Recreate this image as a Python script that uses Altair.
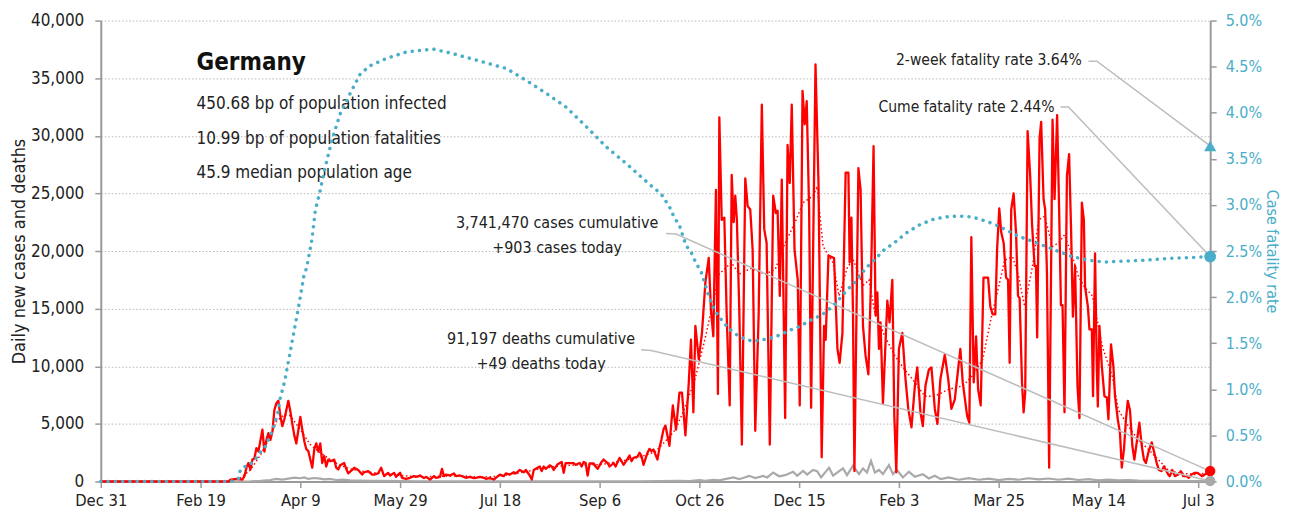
import altair as alt
import pandas as pd

FONT = "DejaVu Sans Condensed, Liberation Sans, sans-serif"
RED = "#ff0000"
GRAY = "#a9a9a9"
TEAL = "#4aaec8"
INK = "#222222"
AXIS = "#9a9a9a"

END_DAY = 556  # days since 2019-12-31 (last reported day)

# x axis ticks (days since Dec 31, 2019) and their labels
x_tick_days = [0, 50, 100, 150, 200, 250, 300, 350, 400, 450, 500, 550]
x_tick_labels = ["Dec 31", "Feb 19", "Apr 9", "May 29", "Jul 18", "Sep 6",
                 "Oct 26", "Dec 15", "Feb 3", "Mar 25", "May 14", "Jul 3"]
y_tick_vals = [0, 5000, 10000, 15000, 20000, 25000, 30000, 35000, 40000]
r_tick_vals = [0, 0.005, 0.01, 0.015, 0.02, 0.025, 0.03, 0.035, 0.04, 0.045, 0.05]

# daily new cases (day, value)
case_day = [0, 64, 65, 68, 71, 72, 73, 74, 75, 76, 77, 78, 79, 81, 82, 83, 84, 85, 86, 87,
            88, 89, 90, 91, 92, 93, 94, 95, 96, 97, 98, 100, 101, 102, 103, 104, 106, 107, 108, 109,
            110, 111, 112, 113, 114, 115, 117, 118, 119, 120, 122, 123, 124, 126, 127, 129, 131, 132, 134, 136,
            137, 139, 140.5, 142, 144, 145, 147, 148, 149, 150, 151, 153, 155, 157, 158, 160, 162, 163, 165, 167,
            168, 170, 171, 172, 173, 175, 177, 178, 180, 182, 183, 185, 187, 188, 190, 192, 193, 195, 197, 198,
            200, 202, 203, 205, 207, 208, 210, 212, 213, 215, 216, 217, 218, 220, 221, 222, 223, 225, 226, 227,
            229, 231, 232, 233, 235, 237, 238, 240, 241, 242, 243, 244, 245, 247, 248, 249, 250, 251, 252, 254,
            255, 257, 258, 260, 261, 262, 264, 265, 266, 267, 269, 270, 271, 272, 274, 275, 276, 277, 279, 280,
            281, 282, 283, 285, 286.7, 288.3, 290, 291.3, 293, 294.7, 295.8, 297, 298, 299.7, 301.3, 303, 304.7, 305.8, 307, 308.3,
            309.3, 310, 311.2, 312.5, 313.7, 315.2, 316.2, 317.2, 318, 318.8, 320, 321.3, 323, 324.2, 325.5, 326.7, 328, 329.7, 331.3, 332.5,
            333.7, 335.3, 337, 338.3, 339.2, 340.3, 341.3, 343, 344.2, 345.3, 346.3, 347.7, 349.3, 350.3, 351.7, 352.8, 353.8, 355, 356, 358.2,
            359.7, 361.3, 362.5, 363.3, 364.7, 367.5, 369.2, 370.3, 371.7, 373.3, 374.7, 375.3, 376.2, 377, 377.7, 379.7, 380.8, 382, 383.3, 384.7,
            386, 387.3, 388.3, 389.2, 390, 390.8, 392, 394.2, 395.3, 396.7, 397.7, 398.7, 400, 401.7, 403.3, 404.7, 406.3, 408, 409.2, 410.8,
            412, 413.3, 415, 416.3, 418, 419.3, 420.8, 423, 424.7, 426.3, 428, 430.8, 432, 434.2, 435.3, 436.3, 437.5, 438.7, 439.7, 441,
            442.4, 444.7, 445.8, 447, 448.3, 449.2, 450.3, 451.3, 452.5, 453.7, 454.7, 455.5, 456.3, 457.5, 458.7, 459.7, 460.5, 461.7, 462.5, 463.3,
            464.5, 465.8, 466.7, 468, 468.7, 469.3, 470.5, 471.3, 472.5, 473.3, 474.2, 475.3, 477, 478, 479.3, 480.3, 481.2, 482, 483, 484.2,
            485.3, 486.3, 487.2, 488.3, 489.5, 490.5, 491.7, 492.7, 493.3, 494.7, 495.5, 496.7, 497.3, 498.3, 499.2, 499.7, 500.5, 501.7, 503, 504.2,
            505, 506.3, 507.5, 508.3, 509.7, 510.8, 511.7, 512.8, 513.8, 514.7, 515.8, 517, 518, 519.2, 520.5, 521.7, 522.8, 523.8, 525, 526.7,
            528, 529.2, 530.3, 531.7, 532.8, 533.8, 535, 535.8, 537, 538.3, 540, 541.3, 542.5, 544.2, 545.3, 546.7, 548.3, 549.7, 550.8, 552,
            553.3, 555, 556]
case_val = [0, 0, 170, 230, 170, 460, 1200, 1600, 1040, 1900, 2000, 2900, 2600, 4500, 2600, 3600, 4200, 3600, 4300, 6200,
            6800, 7000, 5700, 4800, 5400, 6200, 7000, 6100, 5000, 4000, 3300, 5600, 4500, 3500, 2800, 2650, 1200, 2800, 3300, 2600,
            3300, 1600, 2200, 1300, 1900, 1760, 1900, 1200, 1040, 1400, 1600, 1100, 700, 1000, 1200, 1000, 600, 800, 900, 600,
            600, 700, 1200, 460, 750, 520, 750, 400, 600, 750, 320, 230, 320, 460, 400, 520, 290, 400, 170, 460,
            320, 400, 1100, 460, 600, 520, 700, 460, 520, 400, 320, 400, 290, 320, 400, 320, 230, 290, 170, 320,
            600, 460, 700, 600, 800, 700, 1000, 800, 1000, 520, 170, 1000, 1100, 1300, 900, 1300, 1100, 1400, 1300, 1000,
            1500, 1700, 750, 1600, 1600, 1600, 1450, 1600, 1300, 1700, 1600, 520, 1560, 1560, 1300, 1100, 1400, 1700, 1900, 1600,
            1300, 1600, 1300, 2050, 1760, 1450, 1960, 2250, 1760, 2050, 2150, 2500, 2200, 1450, 2500, 2830, 2630, 2770, 1900, 2920,
            3640, 4500, 4850, 3100, 6600, 4500, 7700, 7700, 4000, 8600, 12300, 6000, 13500, 10600, 12900, 17250, 19400, 14900, 12600, 25300,
            7600, 31600, 22700, 22900, 14400, 6600, 26600, 22500, 24800, 22700, 14900, 3200, 26300, 23900, 23600, 20100, 4400, 14400, 32700, 21900,
            20700, 3200, 24800, 23300, 23500, 16100, 26200, 5500, 29200, 25900, 32700, 20100, 17500, 6600, 33900, 31000, 33000, 23600, 6400, 36200,
            25900, 2100, 13500, 12300, 19600, 19400, 11500, 10300, 12900, 26800, 26800, 19000, 22900, 14400, 900, 27200, 25300, 13500, 10900, 9300,
            17300, 29100, 14400, 16400, 11500, 13800, 6800, 15700, 13800, 17500, 5700, 800, 11500, 12900, 8900, 6300, 4700, 8300, 9900, 6000,
            4800, 8300, 9700, 9900, 6300, 5000, 8900, 11000, 8900, 6300, 7100, 11500, 8600, 5700, 5100, 21200, 8600, 12600, 8000, 6600,
            17700, 17700, 15200, 14500, 14500, 20100, 23700, 21600, 20700, 17700, 17500, 10300, 23600, 25000, 21600, 16100, 15900, 8600, 6000, 7700,
            30400, 26500, 22400, 18700, 18700, 12500, 29800, 31200, 24500, 23600, 18100, 1200, 31400, 24500, 31800, 23600, 15300, 15300, 6000, 26500,
            28400, 21800, 14300, 18700, 8300, 5500, 24200, 22700, 16900, 15200, 13200, 13200, 7400, 19800, 9700, 6500, 13500, 10000, 7400, 7300,
            5400, 11900, 10000, 7400, 5400, 4200, 1200, 2800, 5400, 7000, 6200, 3100, 1900, 3400, 5100, 3100, 1900, 1600, 2500, 3400,
            2500, 1600, 1000, 900, 1300, 1000, 600, 460, 1000, 460, 600, 900, 460, 460, 320, 600, 750, 750, 600, 460,
            600, 750, 903]

# 7-day average of new cases (day, value)
avg_day = [0, 65, 70, 75, 80, 85, 88, 92, 95, 100, 105, 110, 115, 120, 125, 130, 140, 150, 160, 170,
           180, 190, 200, 210, 220, 230, 240, 250, 260, 270, 278, 283, 288, 293, 298, 303, 306, 310, 316, 320,
           326, 333, 338, 343, 348, 352, 357, 359, 362, 367, 370, 374, 377, 382, 385, 388, 393, 398, 403, 408,
           413, 418, 425, 432, 437, 442, 446, 450, 453, 457, 460, 463, 467, 470, 473, 477, 480, 483, 487, 490,
           493, 497, 502, 507, 510, 515, 520, 525, 530, 535, 540, 548, 556]
avg_val = [0, 0, 300, 1000, 2300, 3900, 5200, 5800, 5700, 4500, 3200, 2500, 1900, 1400, 1100, 900, 700, 520, 400, 450,
           500, 380, 450, 750, 1100, 1350, 1450, 1450, 1750, 2100, 2600, 3500, 4500, 6500, 9000, 12500, 14900, 18000, 19000, 18000,
           18500, 18000, 18400, 20700, 22500, 24200, 24800, 25600, 20400, 19000, 16100, 18500, 19300, 17000, 17500, 14600, 12600, 10900, 9700, 8600,
           7400, 7400, 8000, 8300, 9200, 10600, 14000, 16900, 19200, 19500, 17800, 15200, 18700, 22700, 23000, 20400, 20700, 21400, 19500, 17800,
           16900, 16100, 11700, 9100, 6200, 4800, 3600, 2800, 1900, 1000, 750, 600, 750]

# daily new deaths (day, value)
death_day = [0, 70, 75, 80, 85, 88, 91, 94, 97, 100, 102, 104, 107, 110, 112, 115, 118, 121, 125, 130,
             135, 140, 150, 160, 180, 220, 250, 270, 280, 290, 295, 300, 303, 307, 310, 314, 317, 320, 325, 328,
             332, 334, 337, 340, 343, 347, 349, 352, 354, 357, 359, 361, 365, 367, 372, 374, 377, 380, 382, 384,
             386, 388, 390, 392, 395, 397, 399, 402, 405, 408, 412, 415, 418, 421, 425, 430, 435, 440, 445, 450,
             455, 460, 465, 470, 475, 480, 485, 490, 495, 500, 505, 510, 515, 520, 530, 540, 548, 556]
death_val = [0, 0, 20, 60, 130, 220, 170, 250, 330, 280, 350, 220, 300, 250, 180, 220, 130, 160, 100, 80,
             60, 50, 30, 20, 10, 8, 10, 15, 30, 50, 40, 120, 60, 150, 100, 250, 350, 200, 490, 300,
             480, 350, 780, 450, 550, 840, 500, 920, 600, 1000, 900, 350, 1200, 500, 1130, 550, 1360, 640, 1130, 780,
             1790, 780, 1000, 640, 1420, 640, 1000, 350, 840, 400, 640, 260, 500, 200, 350, 150, 290, 150, 250, 120,
             230, 150, 280, 180, 260, 150, 240, 130, 200, 100, 160, 90, 130, 70, 60, 40, 30, 49]

# cumulative case fatality rate, percent (day, value)
cfr_day = [0, 65, 69, 70, 72, 74, 77.5, 80, 82.5, 85, 86.7, 88.7, 90, 92, 94.2, 96.7, 99.2, 101.7, 103.3, 105.8,
           107.5, 110, 112.5, 115.8, 120, 125, 130, 135, 143.3, 153.3, 166.7, 176.7, 191.7, 203.3, 213.3, 223.3, 233.3, 243.3, 253.3, 263.3,
           270, 275.8, 280.8, 285, 287.5, 290, 293.3, 295.8, 298.3, 300.8, 303, 305, 307.5, 310.8, 314.7, 320, 326.7, 332.5, 338.3, 344.2,
           350, 355.8, 361.7, 368.3, 373.3, 378.3, 383.3, 387.5, 392.5, 398.3, 403.3, 410, 416.7, 423.3, 430, 436.7, 444.2, 450, 460, 470,
           478.3, 486.7, 495, 503.3, 511.7, 523.3, 535, 546.7, 556]
cfr_pct = [0, 0, 0.03, 0.13, 0.16, 0.17, 0.24, 0.32, 0.38, 0.5, 0.6, 0.74, 0.91, 1.07, 1.32, 1.61, 1.90, 2.22, 2.33, 2.62,
           2.94, 3.16, 3.41, 3.70, 3.99, 4.21, 4.42, 4.51, 4.59, 4.66, 4.69, 4.64, 4.55, 4.48, 4.35, 4.21, 4.06, 3.85, 3.63, 3.45,
           3.32, 3.21, 3.12, 2.98, 2.86, 2.78, 2.56, 2.49, 2.37, 2.28, 2.13, 1.99, 1.86, 1.76, 1.66, 1.57, 1.52, 1.54, 1.57, 1.63,
           1.68, 1.75, 1.81, 1.93, 2.06, 2.17, 2.31, 2.40, 2.51, 2.60, 2.69, 2.78, 2.84, 2.87, 2.88, 2.87, 2.82, 2.77, 2.66, 2.58,
           2.51, 2.44, 2.40, 2.38, 2.39, 2.40, 2.42, 2.43, 2.44]

# headline numbers
country = "Germany"
stats_lines = ["450.68 bp of population infected", "10.99 bp of population fatalities", "45.9 median population age"]
cases_cum, cases_today = 3741470, 903
deaths_cum, deaths_today = 91197, 49
two_week_rate, cume_rate = 3.64, 2.44

# ---------------------------------------------------------------- tables
df_cases = pd.DataFrame({"day": case_day, "v": case_val})
df_avg = pd.DataFrame({"day": avg_day, "v": avg_val})
df_deaths = pd.DataFrame({"day": death_day, "v": death_val})
df_cfr = pd.DataFrame({"day": cfr_day, "p": [c / 100 for c in cfr_pct]})

PCT_TO_LEFT = 40000 / 5.0  # left-axis units per percent point

df_stats = pd.DataFrame({"day": [48] * 3, "v": [32790, 29760, 26730], "label": stats_lines})
df_title = pd.DataFrame({"day": [48], "v": [36300], "label": [country]})
df_center = pd.DataFrame({
    "day": [228.7, 228.7, 220.7, 220.7],
    "v": [22470, 20300, 12380, 10220],
    "label": [f"{cases_cum:,} cases cumulative", f"+{cases_today:,} cases today",
              f"{deaths_cum:,} deaths cumulative", f"+{deaths_today:,} deaths today"],
})
df_right = pd.DataFrame({
    "day": [491.7, 478.0],
    "v": [36540, 32510],
    "label": [f"2-week fatality rate {two_week_rate:.2f}%", f"Cume fatality rate {cume_rate:.2f}%"],
})
df_lead = pd.DataFrame({
    "seg": ["a"] * 3 + ["b"] * 3 + ["c"] * 3 + ["d"] * 3,
    "ord": [0, 1, 2] * 4,
    "day": [495.0, 499.2, END_DAY, 481.0, 485.0, END_DAY, 283.3, 288.3, END_DAY, 270.8, 275.8, END_DAY],
    "v": [36480, 36480, two_week_rate * PCT_TO_LEFT, 32500, 32500, cume_rate * PCT_TO_LEFT,
          21530, 21470, cases_today, 11430, 11370, deaths_today],
})
df_end_left = pd.DataFrame({"day": [END_DAY, END_DAY], "v": [cases_today, deaths_today], "col": [RED, GRAY]})
df_end_cume = pd.DataFrame({"day": [END_DAY], "p": [cume_rate / 100]})
df_end_two = pd.DataFrame({"day": [END_DAY], "p": [two_week_rate / 100]})

# ---------------------------------------------------------------- encodings
labels_js = "[" + ",".join("'" + s + "'" for s in x_tick_labels) + "]"
days_js = "[" + ",".join(str(d) for d in x_tick_days) + "]"
label_expr = f"{labels_js}[indexof({days_js}, datum.value)]"

x_enc = alt.X(
    "day:Q",
    scale=alt.Scale(domain=[0, END_DAY], nice=False, zero=False),
    axis=alt.Axis(values=x_tick_days, labelExpr=label_expr, title=None, grid=False, labelFlush=False,
                  domainColor=AXIS, domainWidth=2, tickColor=AXIS, tickSize=6, tickWidth=1.5,
                  labelFont=FONT, labelFontSize=16.5, labelColor=INK, labelPadding=5),
)
yL = alt.Y(
    "v:Q",
    scale=alt.Scale(domain=[0, 40000], nice=False),
    axis=alt.Axis(values=y_tick_vals, format=",.0f", title="Daily new cases and deaths",
                  grid=True, gridColor="#b8b8b8", gridDash=[1.5, 2], gridWidth=1,
                  domainColor=AXIS, domainWidth=2, tickColor=AXIS, tickSize=6, tickWidth=1.5,
                  labelFont=FONT, labelFontSize=17, labelColor=INK, labelPadding=11,
                  titleFont=FONT, titleFontSize=18, titleFontWeight="normal", titleColor=INK, titlePadding=2),
)
yR = alt.Y(
    "p:Q",
    scale=alt.Scale(domain=[0, 0.05], nice=False),
    axis=alt.Axis(orient="right", values=r_tick_vals, format=".1%", grid=False,
                  domainColor=AXIS, domainWidth=2, tickColor=AXIS, tickSize=6, tickWidth=1.5,
                  labelFont=FONT, labelFontSize=16, labelColor=TEAL, labelPadding=9,
                  title="Case fatality rate", titleFont=FONT, titleFontSize=16, titleFontWeight="normal",
                  titleColor=TEAL, titlePadding=2),
)

deaths = alt.Chart(df_deaths).mark_line(color=GRAY, strokeWidth=2.2).encode(x=x_enc, y=yL)
avg = alt.Chart(df_avg).mark_line(color=RED, strokeWidth=1.5, strokeDash=[1.5, 2.5]).encode(x=x_enc, y=yL)
cases = alt.Chart(df_cases).mark_line(color=RED, strokeWidth=2.3, strokeJoin="round").encode(x=x_enc, y=yL)
leaders = alt.Chart(df_lead).mark_line(color="#bdbdbd", strokeWidth=1.5).encode(
    x=x_enc, y=yL, detail="seg:N", order="ord:Q")
end_left = alt.Chart(df_end_left).mark_point(filled=True, size=110, opacity=1).encode(
    x=x_enc, y=yL, color=alt.Color("col:N", scale=None))
t_title = alt.Chart(df_title).mark_text(align="left", baseline="middle", font=FONT, fontSize=24,
                                        fontWeight="bold", color="#111111").encode(x=x_enc, y=yL, text="label:N")
t_stats = alt.Chart(df_stats).mark_text(align="left", baseline="middle", font=FONT, fontSize=17,
                                        color=INK).encode(x=x_enc, y=yL, text="label:N")
t_center = alt.Chart(df_center).mark_text(align="center", baseline="middle", font=FONT, fontSize=16,
                                          color=INK).encode(x=x_enc, y=yL, text="label:N")
t_right = alt.Chart(df_right).mark_text(align="right", baseline="middle", font=FONT, fontSize=15.6,
                                        color=INK).encode(x=x_enc, y=yL, text="label:N")

cfr_line = alt.Chart(df_cfr).mark_line(color=TEAL, strokeWidth=3.5, strokeDash=[0.1, 7.2],
                                       strokeCap="round").encode(x=x_enc, y=yR)
cume_dot = alt.Chart(df_end_cume).mark_point(filled=True, size=140, opacity=1, color=TEAL,
                                             shape="circle").encode(x=x_enc, y=yR)
two_tri = alt.Chart(df_end_two).mark_point(filled=True, size=150, opacity=1, color=TEAL,
                                           shape="triangle-up").encode(x=x_enc, y=yR)

left = alt.layer(deaths, avg, cases, leaders, end_left, t_title, t_stats, t_center, t_right)
right = alt.layer(cfr_line, cume_dot, two_tri)

chart = (
    alt.layer(left, right)
    .resolve_scale(y="independent")
    .properties(width=1112, height=462, padding={"left": 2, "top": 3, "right": 3, "bottom": 5},
                background="white")
    .configure_view(stroke=None)
)

chart.save("out.html", embed_options={"renderer": "svg", "actions": False})
